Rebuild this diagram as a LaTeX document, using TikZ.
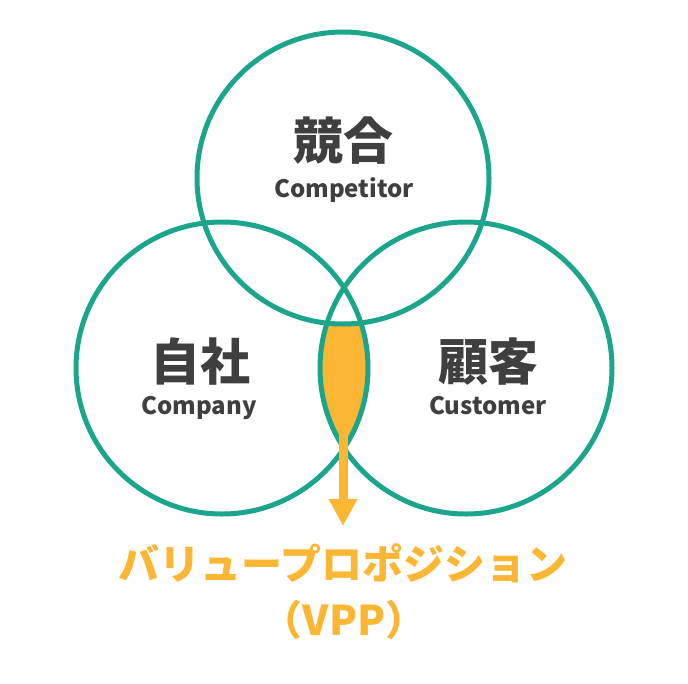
\documentclass[tikz,border=0pt]{standalone}
\usepackage{fontspec}
\setmainfont{Noto Sans CJK JP}
\usepackage{xcolor}
\usetikzlibrary{arrows.meta,positioning}
\definecolor{ringgreen}{HTML}{1BA68B}
\definecolor{vpporange}{HTML}{FBB633}
\definecolor{darkgrey}{HTML}{3F3F3F}
\tikzset{
  ring/.style={
    circle, draw=ringgreen, line width=5pt, minimum size=292pt,
    inner sep=0pt
  },
  titlejp/.style={
    font=\fontsize{50}{54}\selectfont\bfseries, color=darkgrey,
    inner sep=0pt, anchor=base
  },
  titleen/.style={
    font=\fontsize{24}{28}\selectfont\bfseries, color=darkgrey,
    inner sep=0pt, anchor=base
  },
  vpplabel/.style={
    font=\fontsize{41}{45}\selectfont\bfseries, color=vpporange,
    inner sep=0pt, anchor=base
  },
  vpparrow/.style={
    -{Triangle[width=27pt,length=27pt]}, line width=9pt, color=vpporange
  },
}

\begin{document}
\begin{tikzpicture}[x=1pt, y=-1pt]
  \useasboundingbox (0,0) rectangle (688,683);

  %% ── Circle centres ───────────────────────────────────────────────────────
  \coordinate (ctop)   at (343,178);
  \coordinate (cleft)  at (222,368);
  \coordinate (cright) at (466,368);

  %% ── Lens fill (company ∩ customer, outside competitor) ───────────────────
  \begin{scope}
    \clip (cleft) circle[radius=148];
    \clip (cright) circle[radius=148];
    \fill[vpporange, even odd rule] (0,0) rectangle (688,683)
      (ctop) circle[radius=148];
  \end{scope}

  %% ── Rings ────────────────────────────────────────────────────────────────
  \node[ring] (competitor) at (ctop)   {};
  \node[ring] (company)    at (cleft)  {};
  \node[ring] (customer)   at (cright) {};

  %% ── Labels ───────────────────────────────────────────────────────────────
  \node[titlejp] (kyogo)     at (343,159) {競合};
  \node[titleen] (kyogoen)   at (344,197) {Competitor};
  \node[titlejp] (jisha)     at (200,380) {自社};
  \node[titleen] (jishaen)   at (199,414) {Company};
  \node[titlejp] (kokyaku)   at (488,380) {顧客};
  \node[titleen] (kokyakuen) at (488,414) {Customer};

  %% ── Value proposition ────────────────────────────────────────────────────
  \coordinate (lensbot)  at (343,428);
  \coordinate (arrowtip) at (343,526);
  \draw[vpparrow] (lensbot) -- (arrowtip);
  \node[vpplabel] (vpp)     at (343,579) {バリュープロポジション};
  \node[vpplabel] (vppabbr) at (344,635) {（VPP）};

\end{tikzpicture}
\end{document}
